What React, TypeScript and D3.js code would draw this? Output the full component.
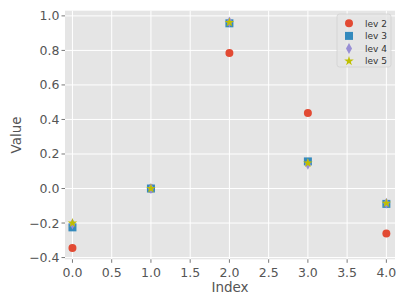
import React from "react";
import * as d3 from "d3";

const indices = [0, 1, 2, 3, 4];
const lev2 = [-0.345, 0.0, 0.785, 0.437, -0.26];
const lev3 = [-0.225, 0.0, 0.957, 0.157, -0.089];
const lev4 = [-0.205, 0.0, 0.965, 0.14, -0.085];
const lev5 = [-0.2, 0.0, 0.962, 0.148, -0.085];
const seriesNames = ["lev 2", "lev 3", "lev 4", "lev 5"];
const xTicks = [0, 0.5, 1, 1.5, 2, 2.5, 3, 3.5, 4];
const yTicks = [-0.4, -0.2, 0.0, 0.2, 0.4, 0.6, 0.8, 1.0];

const W = 407, H = 305;
const L = 65, R = 395, T = 10.7, B = 259.3;
const FONT = "DejaVu Sans, sans-serif";

const colors = ["#E24A33", "#348ABD", "#988ED5", "#BFBF00"];

function markerPath(kind: number): string {
  if (kind === 0) return d3.symbol(d3.symbolCircle, 50)()!;
  if (kind === 1) return "M-4,-4L4,-4L4,4L-4,4Z";
  if (kind === 2) return "M0,-5.5L3,0L0,5.5L-3,0Z";
  return d3.symbol(d3.symbolStar, 28)()!;
}

export default function App() {
  const x = d3.scaleLinear().domain([-0.095, 4.11]).range([L, R]);
  const y = d3.scaleLinear().domain([-0.41, 1.03]).range([B, T]);
  const all = [lev2, lev3, lev4, lev5];
  return (
    <svg width={W} height={H} style={{ position: "absolute", left: 0, top: 0 }}>
      <rect x={0} y={0} width={W} height={H} fill="#fff" />
      <rect x={L} y={T} width={R - L} height={B - T} fill="#E5E5E5" />
      {xTicks.map((t) => (
        <line key={"gx" + t} x1={x(t)} x2={x(t)} y1={T} y2={B} stroke="#fff" strokeWidth={1} />
      ))}
      {yTicks.map((t) => (
        <line key={"gy" + t} x1={L} x2={R} y1={y(t)} y2={y(t)} stroke="#fff" strokeWidth={1} />
      ))}
      {xTicks.map((t) => (
        <g key={"tx" + t}>
          <line x1={x(t)} x2={x(t)} y1={B} y2={B + 3.5} stroke="#555" strokeWidth={0.8} />
          <text x={x(t)} y={276.5} textAnchor="middle" fontFamily={FONT} fontSize={12.5} fill="#555">
            {t.toFixed(1)}
          </text>
        </g>
      ))}
      {yTicks.map((t) => (
        <g key={"ty" + t}>
          <line x1={L - 3.5} x2={L} y1={y(t)} y2={y(t)} stroke="#555" strokeWidth={0.8} />
          <text x={L - 5.5} y={y(t)} dy="0.36em" textAnchor="end" fontFamily={FONT} fontSize={12.5} fill="#555">
            {t.toFixed(1).replace("-", "\u2212")}
          </text>
        </g>
      ))}
      <text x={(L + R) / 2} y={292} textAnchor="middle" fontFamily={FONT} fontSize={13.5} fill="#555">
        Index
      </text>
      <text transform={`translate(20.5,${(T + B) / 2}) rotate(-90)`} textAnchor="middle" fontFamily={FONT} fontSize={13.5} fill="#555">
        Value
      </text>
      {all.map((vals, si) =>
        vals.map((v, i) => (
          <path
            key={`m${si}-${i}`}
            d={markerPath(si)}
            transform={`translate(${x(indices[i])},${y(v)})`}
            fill={colors[si]}
          />
        ))
      )}
      <g>
        <rect x={337} y={14} width={54} height={53} rx={2.5} fill="#E5E5E5" fillOpacity={0.8} stroke="#cccccc" strokeOpacity={0.8} strokeWidth={0.8} />
        {seriesNames.map((n, si) => (
          <g key={n}>
            <path d={markerPath(si)} transform={`translate(349,${23.3 + si * 12.6})`} fill={colors[si]} />
            <text x={365} y={23.3 + si * 12.6} dy="0.36em" fontFamily={FONT} fontSize={9} fill="#333">
              {n}
            </text>
          </g>
        ))}
      </g>
    </svg>
  );
}
